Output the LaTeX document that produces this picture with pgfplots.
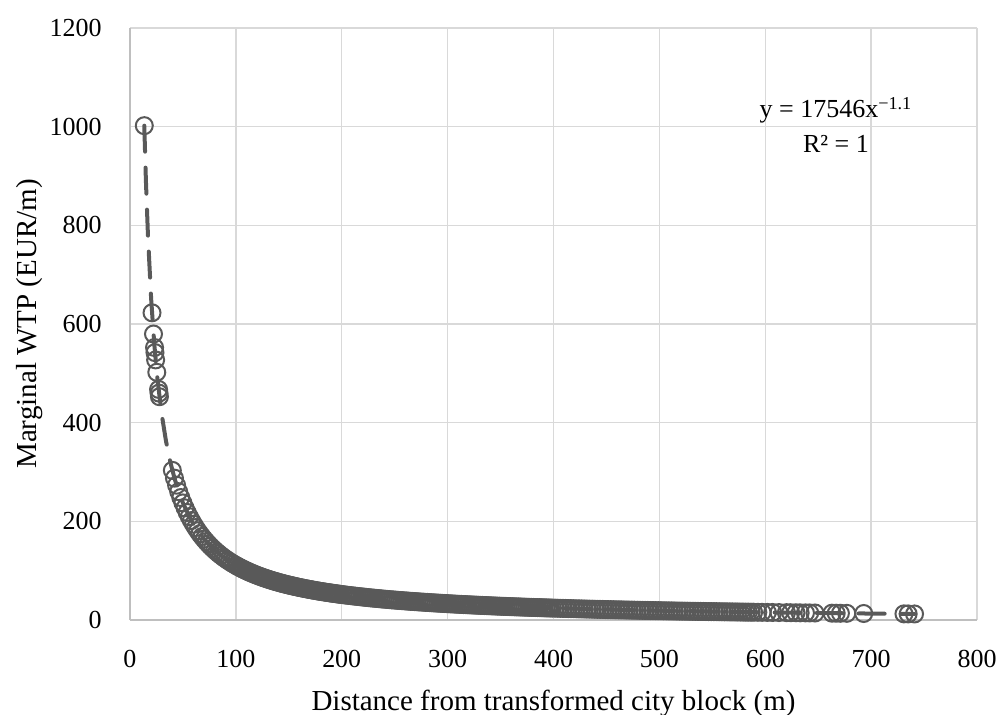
\documentclass[border=0pt]{standalone}
\usepackage{pgfplots}
\pgfplotsset{compat=1.18}
\usepackage{fontspec}
\setmainfont{Liberation Serif}
\definecolor{series}{HTML}{595959}
\definecolor{gridc}{HTML}{D9D9D9}
\definecolor{axisc}{HTML}{BFBFBF}
\begin{document}
\fontsize{13}{15}\selectfont
\begin{tikzpicture}
\path[use as bounding box] (-65pt,-47.5pt) rectangle (435.5pt,310pt);
\begin{axis}[
 scale only axis, width=423.5pt, height=296pt,
 xmin=0, xmax=800, ymin=0, ymax=1200,
 xtick={0,100,...,800}, ytick={0,200,...,1200},
 grid=major, major grid style={gridc, line width=0.75pt},
 axis x line*=bottom, axis y line*=left,
 axis line style={axisc, line width=0.75pt, -},
 tick style={draw=none},
 clip=false,
 /pgf/number format/assume math mode=true,
 /pgf/number format/1000 sep={},
 every tick label/.append style={font=\fontsize{13}{15}\selectfont, inner sep=0pt},
 yticklabel style={anchor=east, xshift=-14pt},
 xticklabel style={anchor=north, yshift=-15pt},
 xlabel={Distance from transformed city block (m)},
 ylabel={Marginal WTP (EUR/m)},
 xlabel style={at={(axis description cs:0.5,-0.1402)}, anchor=center, inner sep=0pt, font=\fontsize{14.5}{16}\selectfont},
 ylabel style={at={(axis description cs:-0.118,0.5)}, anchor=center, inner sep=0pt, font=\fontsize{14.5}{16}\selectfont},
]
% observed marginal WTP per city block
\addplot[only marks, mark=o, mark size=4.25pt, color=series, mark options={line width=1pt}] table {
13.5 1002
20.8 622.7
22.2 579.7
23.2 552.3
23.6 542.0
24.2 527.2
25.3 502.1
27.0 467.4
27.4 459.9
27.8 452.6
40 303.3
42 287.5
44 273.2
46 260.1
48 248.2
50 237.3
52 227.3
54 218.0
56 209.5
58 201.6
60 194.2
62 187.3
64 180.9
66 174.8
68 169.2
70 163.9
72 158.9
74 154.2
76 149.7
78 145.5
80 141.5
82 137.7
84 134.1
86 130.7
88 127.4
90 124.3
92 121.3
94 118.5
96 115.8
98 113.2
100 110.7
101.5 108.95
103 107.2
104.5 105.5
106 103.8
107.5 102.25
109 100.7
110.5 99.22
112 97.75
113.5 96.34
115 94.94
116.5 93.61
118 92.29
119.5 91.03
121 89.77
122.5 88.57
124 87.38
125.5 86.25
127 85.12
128.5 84.04
130 82.96
131.5 81.93
133 80.90
134.5 79.92
136 78.94
137.5 78.00
139 77.06
140.5 76.17
142 75.28
143.5 74.42
145 73.56
146.5 72.74
148 71.93
149.5 71.14
151 70.36
152.5 69.61
154 68.86
155.5 68.13
157 67.40
158.5 66.71
160 66.02
161.5 65.35
163 64.68
164.5 64.04
166 63.40
167.5 62.78
169 62.16
170.5 61.56
172 60.97
173.5 60.39
175 59.82
176.5 59.26
178 58.71
179.5 58.17
181 57.64
182.5 57.12
184 56.61
185.5 56.11
187 55.61
188.5 55.13
190 54.65
191.5 54.18
193 53.72
194.5 53.26
196 52.81
197.5 52.37
199 51.93
201 51.37
203 50.81
205 50.27
207 49.74
209 49.22
211 48.70
213 48.20
215 47.71
217 47.23
219 46.75
221 46.29
223 45.83
225 45.39
227 44.95
229 44.52
231 44.09
233 43.67
235 43.26
237 42.86
239 42.47
241 42.08
243 41.69
245 41.32
247 40.95
249 40.59
251 40.23
253 39.88
255 39.54
257 39.20
259 38.87
261 38.54
263 38.22
265 37.90
267 37.59
269 37.28
271 36.98
273 36.68
275 36.39
277 36.10
279 35.82
281 35.54
283 35.26
285 34.99
287 34.72
289 34.45
291 34.19
293 33.93
295 33.68
297 33.43
299 33.19
301 32.94
303 32.70
305 32.47
307 32.24
309 32.01
311 31.78
313 31.56
315 31.34
317 31.12
319 30.91
321 30.70
323 30.49
325 30.28
327 30.08
329 29.88
331 29.68
333 29.48
335 29.29
337 29.10
339 28.91
341 28.72
343 28.54
345 28.35
347 28.17
349 27.99
351 27.82
353 27.65
355 27.48
357 27.31
359 27.14
361 26.97
363 26.81
365 26.65
367 26.49
369 26.33
371 26.18
373 26.02
375 25.87
377 25.72
379 25.57
381 25.42
383 25.27
385 25.13
387 24.99
389 24.85
391 24.71
393 24.57
395 24.43
397 24.29
399 24.16
401.5 23.99
404 23.83
406.5 23.67
409 23.51
411.5 23.35
414 23.20
416.5 23.05
419 22.90
421.5 22.75
424 22.60
426.5 22.45
429 22.31
431.5 22.17
434 22.03
436.5 21.89
439 21.75
441.5 21.61
444 21.48
446.5 21.35
449 21.22
451.5 21.09
454 20.96
456.5 20.83
459 20.71
461.5 20.59
464 20.47
466.5 20.35
469 20.23
471.5 20.11
474 19.99
476.5 19.87
479 19.76
481.5 19.65
484 19.54
486.5 19.43
489 19.32
491.5 19.21
494 19.10
496.5 18.99
499 18.89
501.5 18.79
504 18.69
506.5 18.58
509 18.48
511.5 18.38
514 18.29
516.5 18.19
519 18.09
521.5 17.99
524 17.90
526.5 17.81
529 17.72
531.5 17.63
534 17.54
536.5 17.45
539 17.36
541.5 17.27
544 17.18
546.5 17.09
549 17.01
551.5 16.92
554 16.84
556.5 16.75
559 16.67
561.5 16.59
564 16.51
566.5 16.43
569 16.35
571.5 16.27
574 16.20
576.5 16.12
579 16.04
581.5 15.96
584 15.89
586.5 15.81
589 15.74
593 15.62
597 15.51
602 15.37
607 15.23
613 15.07
620 14.88
624 14.77
629 14.65
633 14.54
638 14.42
642 14.32
647 14.20
663 13.82
667 13.73
671 13.64
677 13.51
693 13.16
731 12.41
735 12.34
741 12.23
};
% power trendline y = 17546 x^-1.1
\addplot[color=series, line width=2pt, line cap=round, dash pattern=on 13pt off 8pt] table {
13.5 1002
15 892.2
17 777.5
20 650.2
23 557.5
26 487.2
30 416.2
34 362.7
38 320.9
42 287.5
46 260.1
50 237.3
56 209.5
60 194.2
66 174.8
70 163.9
76 149.7
80 141.5
90 124.3
100 110.7
120 90.59
150 70.88
175 59.82
200 51.65
250 40.41
300 33.06
400 24.09
500 18.85
600 15.42
700 13.02
741 12.23
};
\node[anchor=base, inner sep=0pt] at (axis cs:666.8,1017.6) {y = 17546x\textsuperscript{\char"2212 1.1}};
\node[anchor=base, inner sep=0pt] at (axis cs:666.8,946.7) {R² = 1};
\end{axis}
\end{tikzpicture}
\end{document}
